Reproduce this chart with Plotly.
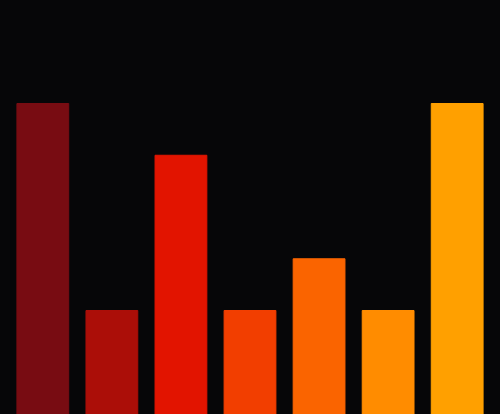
import plotly.graph_objects as go

categories = ["a", "b", "c", "d", "e", "f", "g"]
values = [6, 2, 5, 2, 3, 2, 6]
colors = ["#780c12", "#ab0e08", "#e21400", "#f23e00", "#fa6400", "#ff8c00", "#ffa000"]

fig = go.Figure(go.Bar(
    x=categories,
    y=values,
    marker=dict(color=colors, line=dict(color=colors, width=1)),
    width=0.75,
))

fig.update_layout(
    width=500, height=414,
    margin=dict(l=0, r=0, t=0, b=0),
    paper_bgcolor="#060608",
    plot_bgcolor="#060608",
    showlegend=False,
)
fig.update_xaxes(visible=False, range=[-0.62, 6.62])
fig.update_yaxes(visible=False, range=[0, 8])

# drop the page margin so the figure fills the window
fig.write_html(
    "out.html",
    config={"displayModeBar": False},
    post_script="document.body.style.margin='0';document.body.style.background='#060608';document.body.style.overflow='hidden';",
)
